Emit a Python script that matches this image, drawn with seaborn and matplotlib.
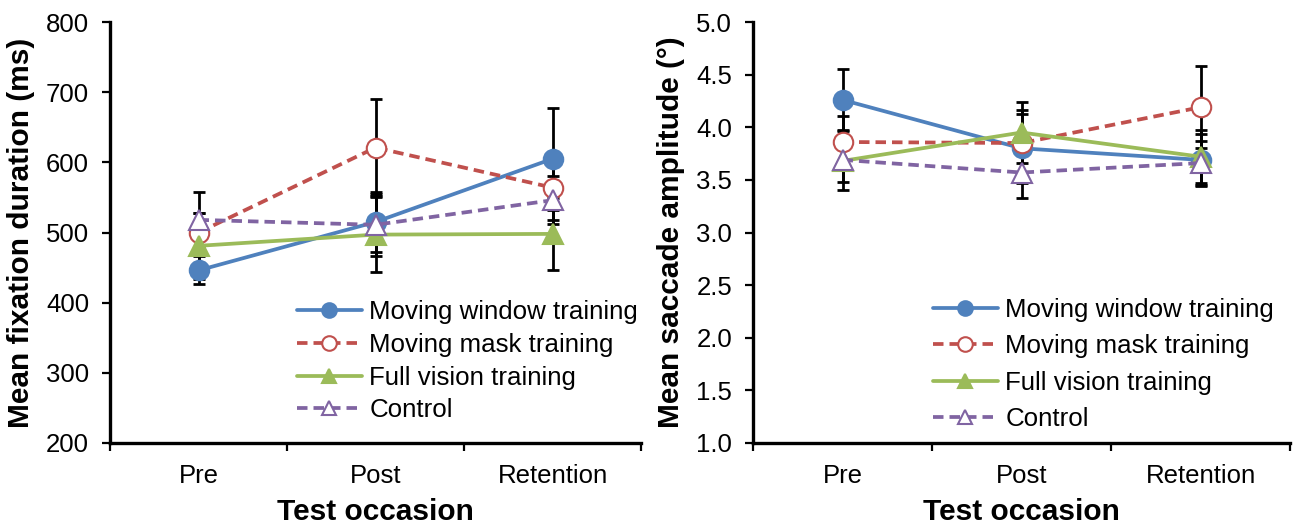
import matplotlib
matplotlib.use("Agg")
import matplotlib.pyplot as plt
from matplotlib.ticker import FixedLocator, MultipleLocator
import seaborn as sns
import pandas as pd

# ---- data -------------------------------------------------------------
occasions = ["Pre", "Post", "Retention"]
groups = ["Moving window training", "Moving mask training",
          "Full vision training", "Control"]

# mean fixation duration (ms) and error
fix_window = [446, 515, 605]
fix_window_err = [20, 43, 73]
fix_mask = [500, 621, 564]
fix_mask_err = [28, 69, 46]
fix_full = [481, 497, 498]
fix_full_err = [47, 53, 51]
fix_control = [518, 511, 546]
fix_control_err = [40, 44, 34]

# mean saccade amplitude (deg) and error
sac_window = [4.26, 3.80, 3.69]
sac_window_err = [0.29, 0.33, 0.25]
sac_mask = [3.86, 3.85, 4.19]
sac_mask_err = [0.25, 0.31, 0.39]
sac_full = [3.68, 3.95, 3.72]
sac_full_err = [0.28, 0.29, 0.25]
sac_control = [3.69, 3.57, 3.66]
sac_control_err = [0.21, 0.24, 0.21]

# ---- style ------------------------------------------------------------
sns.set_style("white")
plt.rcParams["font.family"] = ["Liberation Sans", "DejaVu Sans"]
for key in ("text.color", "axes.labelcolor", "xtick.color", "ytick.color"):
    plt.rcParams[key] = "black"

BLUE, RED, GREEN, PURPLE = "#4F81BD", "#C0504D", "#9BBB59", "#8064A2"
DASH = (0, (2.8, 1.6))
styles = [
    dict(color=BLUE, marker="o", markerfacecolor=BLUE, markeredgecolor=BLUE, linestyle="-"),
    dict(color=RED, marker="o", markerfacecolor="white", markeredgecolor=RED, linestyle=DASH),
    dict(color=GREEN, marker="^", markerfacecolor=GREEN, markeredgecolor=GREEN, linestyle="-"),
    dict(color=PURPLE, marker="^", markerfacecolor="white", markeredgecolor=PURPLE, linestyle=DASH),
]

W, H = 1297, 525
fig = plt.figure(figsize=(W / 100, H / 100), dpi=100)
ax1 = fig.add_axes([110 / W, 82 / H, 531 / W, 421 / H])
ax2 = fig.add_axes([753 / W, 82 / H, 537 / W, 421 / H])


def draw_panel(ax, series, errors, ylim, ystep, ylabel, yfmt, legend_anchor, lspacing):
    for vals, errs, name, st in zip(series, errors, groups, styles):
        df = pd.DataFrame({"occasion": occasions, "value": vals})
        ax.errorbar(range(len(occasions)), vals, yerr=errs, fmt="none",
                    ecolor="black", elinewidth=2.0, capsize=4, capthick=2.0,
                    zorder=2)
        sns.lineplot(data=df, x="occasion", y="value", ax=ax, label=name,
                     linewidth=2.7, markersize=14, markeredgewidth=1.5,
                     sort=False, zorder=3, **st)

    ax.set_xlim(-0.5, len(occasions) - 0.5)
    ax.set_ylim(*ylim)
    ax.yaxis.set_major_locator(MultipleLocator(ystep))
    ax.yaxis.set_major_formatter(plt.FormatStrFormatter(yfmt))
    ax.set_xticks(range(len(occasions)))
    ax.set_xticklabels(occasions)
    ax.xaxis.set_minor_locator(FixedLocator([i - 0.5 for i in range(len(occasions) + 1)]))

    for side in ("top", "right"):
        ax.spines[side].set_visible(False)
    for side in ("left", "bottom"):
        ax.spines[side].set_linewidth(2.4)
        ax.spines[side].set_color("black")
        ax.spines[side].set_capstyle("projecting")

    ax.tick_params(axis="y", which="major", direction="out", length=6,
                   width=1.6, color="black", labelsize=18.5, pad=9,
                   left=True)
    ax.tick_params(axis="x", which="major", length=0, labelsize=18.5, pad=15)
    ax.tick_params(axis="x", which="minor", direction="out", length=6,
                   width=1.6, color="black", bottom=True)

    ax.set_ylabel(ylabel, fontsize=21.5, fontweight="bold", labelpad=8)
    ax.set_xlabel("Test occasion", fontsize=21.5, fontweight="bold", labelpad=7)

    ax.legend(loc="upper left", bbox_to_anchor=legend_anchor,
              bbox_transform=fig.transFigure, frameon=False, fontsize=18.6,
              handlelength=2.5, handletextpad=0.3, labelspacing=lspacing,
              borderpad=0, borderaxespad=0, numpoints=1, markerscale=0.75)


draw_panel(ax1,
           [fix_window, fix_mask, fix_full, fix_control],
           [fix_window_err, fix_mask_err, fix_full_err, fix_control_err],
           (200, 800), 100, "Mean fixation duration (ms)", "%d",
           (297 / W, 1 - 300 / H), 0.34)
draw_panel(ax2,
           [sac_window, sac_mask, sac_full, sac_control],
           [sac_window_err, sac_mask_err, sac_full_err, sac_control_err],
           (1.0, 5.0), 0.5, "Mean saccade amplitude (°)", "%.1f",
           (933 / W, 1 - 298 / H), 0.48)

fig.savefig("out.png", dpi=100)
